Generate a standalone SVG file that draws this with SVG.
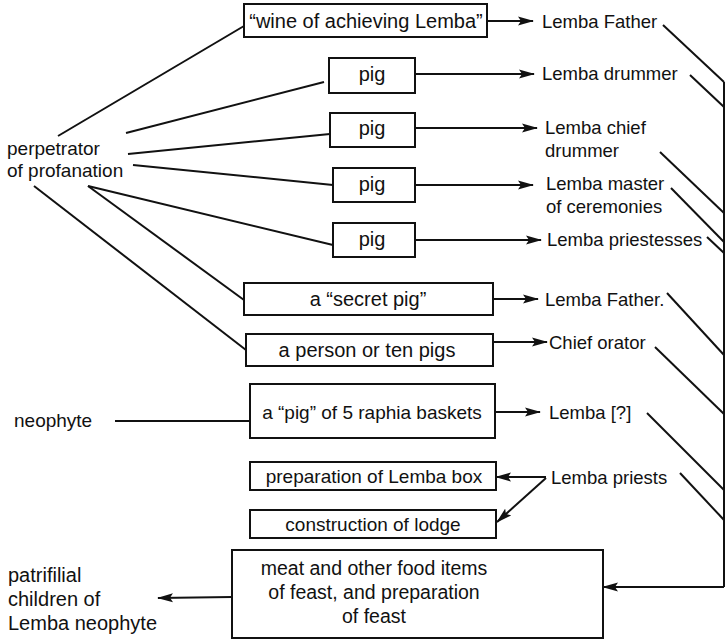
<svg xmlns="http://www.w3.org/2000/svg" width="728" height="641" viewBox="0 0 728 641">
  <style>
    text { font-family: "Liberation Sans", Arial, sans-serif; font-size: 18.5px; fill: #111; }
    .c { text-anchor: middle; }
    .big { font-size: 20px; }
    .mid { font-size: 19px; }
    .tall { font-size: 19.5px; }
    .box { fill: #fff; stroke: #111; stroke-width: 2; }
    .ln { fill: none; stroke: #111; stroke-width: 2; }
    .arr { fill: none; stroke: #111; stroke-width: 2; marker-end: url(#head); }
  </style>
  <defs>
    <marker id="head" markerUnits="userSpaceOnUse" markerWidth="16" markerHeight="10" refX="15" refY="5" orient="auto">
      <path d="M0,0.5 L16,5 L0,9.5 L3,5 Z" fill="#111"/>
    </marker>
  </defs>
  <rect width="728" height="641" fill="#fff"/>

  <!-- connectors -->
  <g id="connectors">
    <!-- fan from the perpetrator -->
    <path class="ln" d="M58,136 L244,26"/>
    <path class="ln" d="M126,133 L324,82"/>
    <path class="ln" d="M128,154 L330,134"/>
    <path class="ln" d="M133,165 L333,185"/>
    <path class="ln" d="M88,186 L333,245"/>
    <path class="ln" d="M88,186 L244,300"/>
    <path class="ln" d="M34,186 L246,350"/>
    <!-- neophyte -->
    <path class="ln" d="M115,421 L250,421"/>
    <!-- gifts to recipients -->
    <path class="arr" d="M487,21 L533,21"/>
    <path class="arr" d="M415,74 L534,74"/>
    <path class="arr" d="M415,128 L537,128"/>
    <path class="arr" d="M415,185 L533,185"/>
    <path class="arr" d="M415,240 L541,240"/>
    <path class="arr" d="M493,299 L538,299"/>
    <path class="arr" d="M493,342 L547,342"/>
    <path class="arr" d="M495,412 L540,412"/>
    <!-- priests' tasks -->
    <path class="arr" d="M546,477 L496,477"/>
    <path class="arr" d="M546,478 L497,522"/>
    <!-- right-hand collector -->
    <path class="ln" d="M663,25 L724,82"/>
    <path class="ln" d="M690,75 L724,107"/>
    <path class="ln" d="M660,152 L724,213"/>
    <path class="ln" d="M671,188 L724,242"/>
    <path class="ln" d="M707,237 L724,253"/>
    <path class="ln" d="M667,293 L724,355"/>
    <path class="ln" d="M655,347 L724,414"/>
    <path class="ln" d="M647,413 L724,490"/>
    <path class="ln" d="M680,473 L724,520"/>
    <path class="ln" d="M724,82 L724,587"/>
    <path class="arr" d="M724,587 L603,587"/>
    <!-- feast to children -->
    <path class="arr" d="M232,597 L158,598"/>
  </g>

  <!-- givers -->
  <g id="perpetrator">
    <text class="mid" x="7" y="155">perpetrator</text>
    <text class="mid" x="7" y="177">of profanation</text>
  </g>
  <g id="neophyte">
    <text class="mid" x="14" y="427">neophyte</text>
  </g>
  <g id="children">
    <text class="big" x="8" y="582">patrifilial</text>
    <text class="big" x="8" y="606">children of</text>
    <text class="big" x="8" y="630">Lemba neophyte</text>
  </g>

  <!-- gifts -->
  <g id="wine">
    <rect class="box" x="244" y="4" width="243" height="33"/>
    <text class="c big" x="366" y="28">“wine of achieving Lemba”</text>
  </g>
  <g id="pig1">
    <rect class="box" x="329" y="58" width="86" height="35"/>
    <text class="c big" x="372" y="81">pig</text>
  </g>
  <g id="pig2">
    <rect class="box" x="330" y="113" width="85" height="34"/>
    <text class="c big" x="372" y="135">pig</text>
  </g>
  <g id="pig3">
    <rect class="box" x="333" y="168" width="82" height="34"/>
    <text class="c big" x="372" y="191">pig</text>
  </g>
  <g id="pig4">
    <rect class="box" x="333" y="223" width="82" height="34"/>
    <text class="c big" x="372" y="246">pig</text>
  </g>
  <g id="secret-pig">
    <rect class="box" x="244" y="283" width="249" height="32"/>
    <text class="c big" x="368" y="306">a “secret pig”</text>
  </g>
  <g id="person">
    <rect class="box" x="246" y="334" width="247" height="32"/>
    <text class="c big" x="367" y="357">a person or ten pigs</text>
  </g>
  <g id="raphia">
    <rect class="box" x="250" y="384" width="245" height="54"/>
    <text class="c mid" x="372" y="419">a “pig” of 5 raphia baskets</text>
  </g>
  <g id="lemba-box">
    <rect class="box" x="250" y="462" width="246" height="28"/>
    <text class="c mid" x="374" y="483">preparation of Lemba box</text>
  </g>
  <g id="lodge">
    <rect class="box" x="250" y="510" width="246" height="28"/>
    <text class="c mid" x="373" y="531">construction of lodge</text>
  </g>
  <g id="feast">
    <rect class="box" x="232" y="550" width="371" height="88"/>
    <text class="c tall" x="374" y="575">meat and other food items</text>
    <text class="c tall" x="374" y="599">of feast, and preparation</text>
    <text class="c tall" x="374" y="623">of feast</text>
  </g>

  <!-- recipients -->
  <g id="lemba-father">
    <text x="542" y="28">Lemba Father</text>
  </g>
  <g id="drummer">
    <text x="542" y="80">Lemba drummer</text>
  </g>
  <g id="chief-drummer">
    <text x="545" y="134">Lemba chief</text>
    <text x="545" y="157">drummer</text>
  </g>
  <g id="master">
    <text x="546" y="190">Lemba master</text>
    <text x="546" y="213">of ceremonies</text>
  </g>
  <g id="priestesses">
    <text x="547" y="246">Lemba priestesses</text>
  </g>
  <g id="lemba-father-2">
    <text x="545" y="306">Lemba Father.</text>
  </g>
  <g id="chief-orator">
    <text x="549" y="349">Chief orator</text>
  </g>
  <g id="lemba-unknown">
    <text x="549" y="419">Lemba [?]</text>
  </g>
  <g id="priests">
    <text x="551" y="484">Lemba priests</text>
  </g>
</svg>
